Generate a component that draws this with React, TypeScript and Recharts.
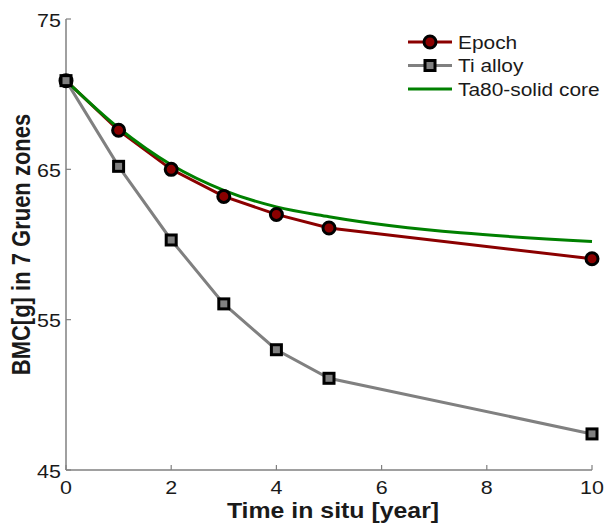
import React from 'react';
import { LineChart, Line, XAxis, YAxis, Legend } from 'recharts';

const years = [0, 1, 2, 3, 4, 5, 10];
const epoch = [70.9, 67.6, 65.0, 63.2, 62.0, 61.1, 59.05];
const tiAlloy = [70.9, 65.2, 60.3, 56.05, 53.0, 51.1, 47.4];
const ta80 = [70.9, 67.75, 65.3, 63.6, 62.5, 61.85, 60.2];
const xTicks = [0, 2, 4, 6, 8, 10];
const yTicks = [45, 55, 65, 75];
const seriesNames = ['Epoch', 'Ti alloy', 'Ta80-solid core'];

const data = years.map((t, i) => ({ t, epoch: epoch[i], ti: tiAlloy[i], ta: ta80[i] }));

const RED = '#8B0000';
const GRAY = '#808080';
const GREEN = '#008000';
const AXIS = '#808080';
const TXT = '#1a1a1a';
const FONT = '"Liberation Sans", Arial, Helvetica, sans-serif';
const SX = 1.13;

const SText = (props: any) => {
  const { x, y, anchor = 'start', size, bold, children } = props;
  return (
    <text
      transform={`translate(${x} ${y}) scale(${SX} 1)`}
      x={0}
      y={0}
      textAnchor={anchor}
      fontSize={size}
      fontWeight={bold ? 'bold' : 'normal'}
      fill={TXT}
      fontFamily={FONT}
    >
      {children}
    </text>
  );
};

const XTick = (props: any) => {
  const { x, y, payload } = props;
  return (
    <g>
      <line x1={x} y1={y} x2={x} y2={y - 5} stroke={AXIS} strokeWidth={1.2} />
      <SText x={x} y={y + 24} anchor="middle" size={19}>
        {payload.value}
      </SText>
    </g>
  );
};

const YTick = (props: any) => {
  const { x, y, payload } = props;
  return (
    <g>
      <line x1={x} y1={y} x2={x + 5} y2={y} stroke={AXIS} strokeWidth={1.2} />
      <SText x={x - 5} y={y + 7.5} anchor="end" size={19}>
        {payload.value}
      </SText>
    </g>
  );
};

const CircleDot = (props: any) => {
  const { cx, cy } = props;
  if (cx == null || cy == null) return null;
  return <circle cx={cx} cy={cy} r={6} fill={RED} stroke="#000" strokeWidth={3} />;
};

const SquareDot = (props: any) => {
  const { cx, cy } = props;
  if (cx == null || cy == null) return null;
  return <rect x={cx - 5} y={cy - 5} width={10} height={10} fill={GRAY} stroke="#000" strokeWidth={3} />;
};

const LegendContent = () => {
  const rows = [
    { name: seriesNames[0], color: RED, marker: 'circle' },
    { name: seriesNames[1], color: GRAY, marker: 'square' },
    { name: seriesNames[2], color: GREEN, marker: 'none' },
  ];
  return (
    <svg width={200} height={75} style={{ display: 'block', overflow: 'visible' }}>
      {rows.map((r, i) => {
        const cy = 12 + i * 23.5;
        return (
          <g key={r.name}>
            <line x1={3} y1={cy} x2={47} y2={cy} stroke={r.color} strokeWidth={3} />
            {r.marker === 'circle' && <circle cx={25} cy={cy} r={6} fill={RED} stroke="#000" strokeWidth={3} />}
            {r.marker === 'square' && (
              <rect x={20} y={cy - 5} width={10} height={10} fill={GRAY} stroke="#000" strokeWidth={3} />
            )}
            <SText x={53} y={cy + 6.6} size={18.5}>
              {r.name}
            </SText>
          </g>
        );
      })}
    </svg>
  );
};

export default function App() {
  return (
    <div style={{ position: 'absolute', left: 0, top: 0, width: 604, height: 526, background: '#fff' }}>
      <LineChart width={604} height={526} data={data} margin={{ top: 19, right: 12, bottom: 26, left: 0 }}>
        <XAxis
          dataKey="t"
          type="number"
          domain={[0, 10]}
          ticks={xTicks}
          height={30}
          tick={<XTick />}
          tickLine={false}
          tickSize={0}
          tickMargin={0}
          axisLine={{ stroke: AXIS, strokeWidth: 1.5 }}
          interval={0}
          label={{
            content: (p: any) => (
              <SText x={333} y={518} anchor="middle" size={22} bold>
                Time in situ [year]
              </SText>
            ),
          }}
        />
        <YAxis
          type="number"
          domain={[45, 75]}
          ticks={yTicks}
          width={66}
          tick={<YTick />}
          tickLine={false}
          tickSize={0}
          tickMargin={0}
          axisLine={{ stroke: AXIS, strokeWidth: 1.5 }}
          interval={0}
          label={{
            content: (p: any) => {
              const cy = p.viewBox.y + p.viewBox.height / 2;
              return (
                <text
                  transform={`translate(30 ${cy}) scale(${SX} 1) rotate(-90)`}
                  x={0}
                  y={0}
                  textAnchor="middle"
                  fontSize={22}
                  fontWeight="bold"
                  fill={TXT}
                  fontFamily={FONT}
                >
                  BMC[g] in 7 Gruen zones
                </text>
              );
            },
          }}
        />
        <Legend
          layout="vertical"
          align="center"
          verticalAlign="middle"
          content={<LegendContent />}
          wrapperStyle={{ position: 'absolute', left: 405, top: 29.5, width: 200, height: 75 }}
        />
        <Line
          name={seriesNames[0]}
          dataKey="epoch"
          type="linear"
          stroke={RED}
          strokeWidth={3}
          dot={<CircleDot />}
          isAnimationActive={false}
        />
        <Line
          name={seriesNames[1]}
          dataKey="ti"
          type="linear"
          stroke={GRAY}
          strokeWidth={3}
          dot={<SquareDot />}
          isAnimationActive={false}
        />
        <Line
          name={seriesNames[2]}
          dataKey="ta"
          type="monotone"
          stroke={GREEN}
          strokeWidth={3}
          dot={false}
          isAnimationActive={false}
        />
      </LineChart>
    </div>
  );
}
